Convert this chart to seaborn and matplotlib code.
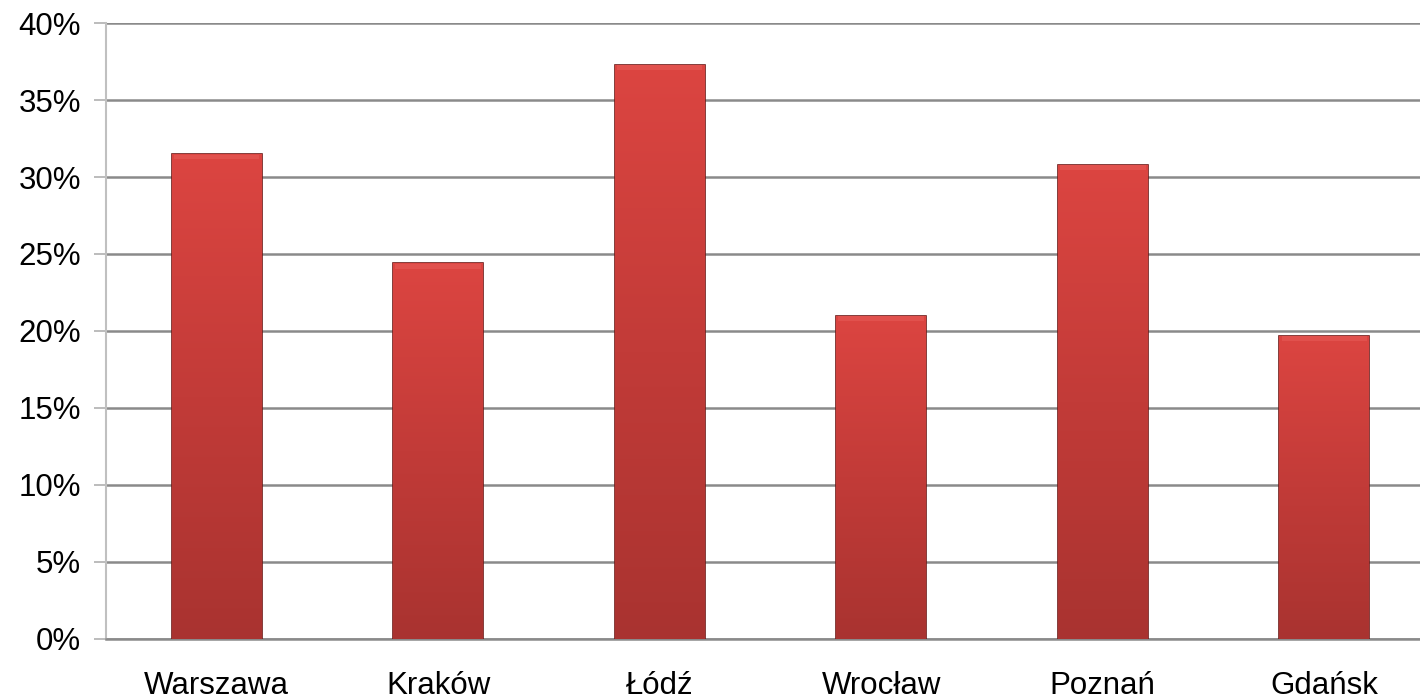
import numpy as np
import pandas as pd
import matplotlib
matplotlib.use("Agg")
import matplotlib.pyplot as plt
import seaborn as sns
from matplotlib.colors import LinearSegmentedColormap
from matplotlib.ticker import MultipleLocator, FuncFormatter

# data
cities = ["Warszawa", "Kraków", "Łódź", "Wrocław", "Poznań", "Gdańsk"]
shares = [31.5, 24.4, 37.3, 21.0, 30.8, 19.7]

df = pd.DataFrame({"city": cities, "share": shares})

sns.set_style("white")
plt.rcParams["font.family"] = ["Liberation Sans", "DejaVu Sans"]
plt.rcParams["text.color"] = "black"
plt.rcParams["xtick.labelcolor"] = "black"
plt.rcParams["ytick.labelcolor"] = "black"

fig = plt.figure(figsize=(14.2, 6.99), dpi=100)
# plot area runs a little past the right edge of the image, as in the original
ax = fig.add_axes([0.0746, 0.086, 0.9360, 0.881])

sns.barplot(data=df, x="city", y="share", color="#d64541", width=0.406,
            edgecolor="#6e1a18", linewidth=1.2, ax=ax, zorder=3)

# vertical gradient inside each bar
cmap = LinearSegmentedColormap.from_list("bar", ["#a93330", "#c23b38", "#dc4541"])
grad = np.linspace(0, 1, 256).reshape(-1, 1)
for p in ax.patches:
    x0, y0 = p.get_x(), p.get_y()
    w, h = p.get_width(), p.get_height()
    im = ax.imshow(grad, cmap=cmap, origin="lower", aspect="auto",
                   extent=[x0, x0 + w, y0, y0 + h], zorder=3.5)
    im.set_clip_path(p)
    # top highlight
    ax.fill_between([x0 + 0.01, x0 + w - 0.01], y0 + h - 0.35, y0 + h - 0.05,
                    color="#ef6a66", alpha=0.35, zorder=4, linewidth=0)

ax.set_xlim(-0.5, len(cities) - 0.5)
ax.set_ylim(0, 40)
ax.yaxis.set_major_locator(MultipleLocator(5))
ax.yaxis.set_major_formatter(FuncFormatter(lambda v, _: f"{v:.0f}%"))
ax.grid(axis="y", color="#8a8a8a", linewidth=1.8, zorder=0)
ax.set_axisbelow(True)

ax.set_xlabel("")
ax.set_ylabel("")

# category boundary ticks on the x axis
ax.set_xticks(np.arange(len(cities)))
ax.set_xticklabels(cities)
ax.set_xticks(np.arange(-0.5, len(cities)), minor=True)
ax.tick_params(axis="x", which="major", length=0, pad=23, labelsize=22.5)
ax.tick_params(axis="x", which="minor", length=9, width=1.2, color="#b0b0b0", direction="out")
ax.tick_params(axis="y", length=9, width=1.2, color="#b0b0b0", direction="out",
               labelsize=22.5, pad=9, left=True)

for s in ["top", "right"]:
    ax.spines[s].set_visible(False)
ax.spines["left"].set_color("#c0c0c0")
ax.spines["left"].set_linewidth(1.5)
ax.spines["bottom"].set_color("#8a8a8a")
ax.spines["bottom"].set_linewidth(1.8)

fig.savefig("out.png", dpi=100)
